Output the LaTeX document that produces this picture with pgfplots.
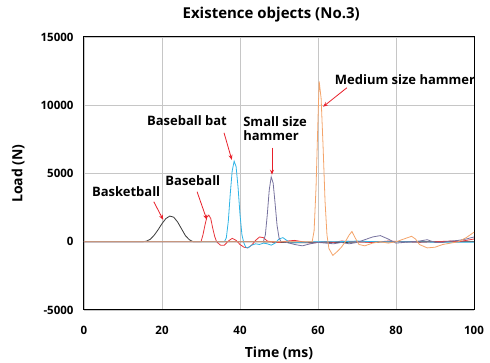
\documentclass[border=0pt]{standalone}
\usepackage{pgfplots}
\pgfplotsset{compat=1.18}
\usepackage{fontspec}
\setmainfont{Open Sans}
\usetikzlibrary{arrows.meta}
\definecolor{cBask}{HTML}{3A3A3A}
\definecolor{cBall}{HTML}{E8343A}
\definecolor{cBat}{HTML}{2EB4E6}
\definecolor{cSmall}{HTML}{76729E}
\definecolor{cMed}{HTML}{F4A46A}
\definecolor{cArrow}{HTML}{E8202A}
\begin{document}
\begin{tikzpicture}
\path[use as bounding box] (-84pt,-53pt) rectangle (406pt,310pt);
\begin{axis}[
  at={(0,0)}, anchor=south west,
  scale only axis, width=390pt, height=273pt,
  xmin=0, xmax=100, ymin=-5000, ymax=15000,
  xtick={0,20,40,60,80,100}, ytick={-5000,0,5000,10000,15000},
  scaled y ticks=false,
  grid=major, major grid style={gray!45, line width=0.6pt},
  major tick length=0pt,
  axis line style={black, line width=1pt},
  /pgf/number format/assume math mode=true,
  /pgf/number format/set thousands separator={},
  ticklabel style={font=\fontsize{11.5}{13}\selectfont\bfseries},
  xticklabel style={yshift=-13pt},
  yticklabel style={xshift=-7pt},
  title={Existence objects (No.3)},
  title style={font=\fontsize{15}{17}\selectfont\bfseries, at={(axis description cs:0.48,1.06)}, anchor=center},
  xlabel={Time (ms)},
  xlabel style={font=\fontsize{14}{16}\selectfont\bfseries, at={(axis description cs:0.5,-0.16)}, anchor=center},
  ylabel={Load (N)},
  ylabel style={font=\fontsize{14}{16}\selectfont\bfseries, at={(axis description cs:-0.169,0.5)}, anchor=center},
  every axis plot/.append style={line width=0.8pt},
]
% Basketball
\addplot[cBask] coordinates {
(0,0) (15,0) (16,40) (17,180) (18,480) (19,880) (20,1330) (21,1700) (22,1880) (23,1800) (24,1450) (25,950) (26,450) (27,150) (28,0) (45,0) (50,-40) (54,-80) (58,-60) (62,-40) (66,-60) (70,-20) (75,-30) (80,0) (100,0)};
% Baseball
\addplot[cBall] coordinates {
(0,0) (30,0) (30.5,500) (31,1200) (31.5,1800) (32,1950) (32.5,1700) (33,1000) (33.5,400) (34,0) (35,-250) (36,-250) (37,50) (38,250) (39,100) (40,-200) (41,-400) (42,-450) (43,-250) (44,100) (45,350) (46,300) (47,50) (48,0) (50,-50) (52,50) (54,100) (56,0) (58,-100) (60,-50) (62,0) (64,-50) (66,50) (70,0) (74,-50) (78,50) (82,0) (86,-50) (90,0) (94,50) (96,0) (98,100) (100,200)};
% Baseball bat
\addplot[cBat] coordinates {
(0,0) (36,0) (36.5,300) (37,1500) (37.5,3500) (38,5200) (38.5,5900) (39,5500) (39.5,4000) (40,2000) (40.5,500) (41,-100) (41.5,-400) (42,-450) (43,-250) (44,-150) (45,-200) (46,-100) (47,-150) (48,-250) (49,-100) (50,200) (51,300) (52,100) (53,-100) (55,-50) (60,0) (65,0) (70,50) (75,0) (80,0) (90,-30) (100,-30)};
% Small size hammer
\addplot[cSmall] coordinates {
(0,0) (46,0) (46.5,500) (47,2000) (47.5,3800) (48,4750) (48.5,4300) (49,2800) (49.5,1200) (50,300) (50.5,0) (52,-50) (54,-200) (56,-300) (58,-150) (60,-50) (62,-100) (64,-150) (66,-50) (68,-150) (70,-50) (72,150) (74,350) (76,450) (78,200) (80,-100) (82,-50) (84,0) (86,50) (88,150) (90,-50) (92,-50) (94,50) (96,100) (98,200) (100,350)};
% Medium size hammer
\addplot[cMed] coordinates {
(0,0) (58.5,0) (59,800) (59.5,4000) (60,9000) (60.3,11750) (60.8,10500) (61.3,7000) (61.8,3000) (62.3,500) (62.8,-500) (63.8,-1000) (65,-700) (66,-400) (67,0) (68,500) (68.7,750) (69.5,300) (70.5,-200) (72,-300) (74,-100) (76,0) (78,-100) (80,0) (82,200) (84,400) (85,200) (86,-200) (88,-450) (90,-400) (92,-200) (94,-100) (96,0) (98,300) (100,700)};
% annotations
\tikzset{lab/.style={font=\fontsize{13}{14.5}\selectfont\bfseries, inner sep=0pt}, arr/.style={cArrow, line width=0.8pt, -{Stealth[length=5pt,width=4pt]}}}
\node[lab] at (axis cs:10.8,3660) {Basketball};
\draw[arr] (axis cs:17.9,2930) -- (axis cs:20.3,1610);
\node[lab] at (axis cs:27.9,4470) {Baseball};
\draw[arr] (axis cs:29.0,3660) -- (axis cs:31.5,1610);
\node[lab] at (axis cs:26.4,8860) {Baseball bat};
\draw[arr] (axis cs:35.9,7985) -- (axis cs:37.9,6000);
\node[lab, anchor=west, align=left] at (axis cs:40.8,8280) {Small size\\hammer};
\draw[arr] (axis cs:48.2,6890) -- (axis cs:48.2,4910);
\node[lab] at (axis cs:82.3,11870) {Medium size hammer};
\draw[arr] (axis cs:67.4,11280) -- (axis cs:61.3,9890);
\end{axis}
\end{tikzpicture}
\end{document}
